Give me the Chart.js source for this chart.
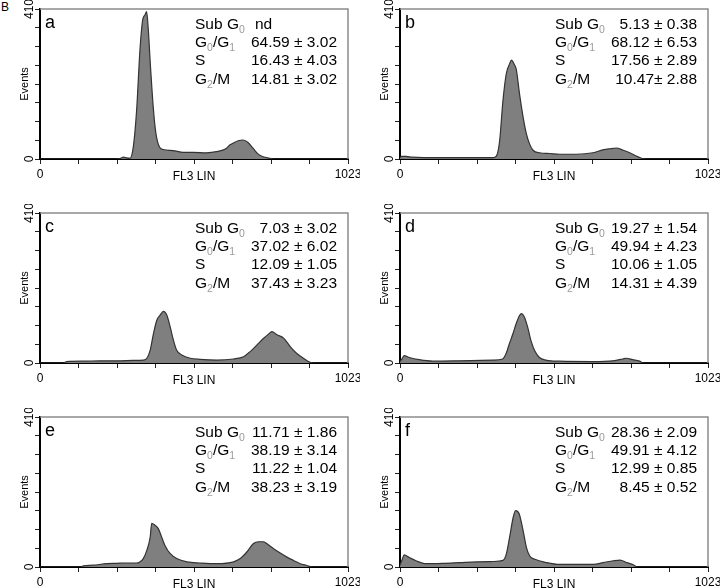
<!DOCTYPE html>
<html>
<head>
<meta charset="utf-8">
<script src="https://cdn.jsdelivr.net/npm/chart.js@4.4.1/dist/chart.umd.min.js"></script>
<style>
  body { margin: 0; background: #fff; width: 720px; height: 588px; overflow: hidden; position: relative; font-family: "Liberation Sans", Arial, sans-serif; }
  canvas { position: absolute; }
  #tag { position: absolute; left: 1px; top: 0px; font-size: 12px; }
</style>
</head>
<body>
<div id="tag">B</div>
<canvas id="pa" width="360" height="190" style="left:0;top:0"></canvas>
<canvas id="pb" width="360" height="190" style="left:360px;top:0"></canvas>
<canvas id="pc" width="360" height="190" style="left:0;top:204px"></canvas>
<canvas id="pd" width="360" height="190" style="left:360px;top:204px"></canvas>
<canvas id="pe" width="360" height="190" style="left:0;top:408px"></canvas>
<canvas id="pf" width="360" height="190" style="left:360px;top:408px"></canvas>
<script>
const FONT = '"Liberation Sans", Arial, sans-serif';

// Axis ticks
const xTicks = [0, 127.875, 255.75, 383.625, 511.5, 639.375, 767.25, 895.125, 1023];
const xTickText = ['0', '', '', '', '', '', '', '', '1023'];
const yTicks = [0, 51.25, 102.5, 153.75, 205, 256.25, 307.5, 358.75, 410];
const yEndLabels = ['0', '410'];

// Phase labels: [text, subscript, text, subscript ...]
const phaseLabels = [['Sub G', '0'], ['G', '0', '/G', '1'], ['S'], ['G', '2', '/M']];

// Histogram data (channel, events)
const chA = [0, 150, 255, 268, 277, 288, 299, 310, 321, 332, 341, 349, 354, 359, 367, 376, 385, 396, 409, 442, 476, 509, 553, 586, 619, 630, 641, 658, 675, 691, 708, 724, 741, 763, 775, 1023];
const evA = [0, 0, 0, 2, 5, 3, 2, 34, 134, 298, 380, 394, 403, 362, 252, 143, 70, 34, 26, 23, 18, 18, 17, 20, 29, 38, 43, 50, 52, 45, 29, 14, 6, 2, 0, 0];
const statsA = ['nd', '64.59 ± 3.02', '16.43 ± 4.03', '14.81 ± 3.02'];

const chB = [0, 5, 20, 40, 80, 150, 230, 309, 320, 331, 342, 353, 364, 370, 381, 386, 397, 409, 420, 431, 442, 464, 497, 530, 586, 641, 674, 696, 718, 741, 763, 785, 802, 818, 1023];
const evB = [4, 7, 7, 5, 4, 4, 4, 4, 8, 50, 160, 233, 260, 270, 256, 246, 178, 114, 68, 40, 24, 17, 15, 13, 13, 17, 25, 28, 30, 24, 17, 8, 2, 0, 0];
const statsB = ['5.13 ± 0.38', '68.12 ± 6.53', '17.56 ± 2.89', '10.47± 2.88'];

const chC = [0, 78, 89, 144, 199, 255, 310, 343, 355, 366, 377, 388, 399, 410, 421, 432, 443, 454, 471, 499, 532, 587, 643, 676, 698, 720, 742, 759, 770, 787, 809, 831, 853, 875, 897, 909, 1023];
const evC = [0, 0, 4, 5, 6, 6, 7, 8, 13, 35, 81, 117, 131, 141, 131, 100, 63, 35, 22, 13, 10, 8, 11, 17, 31, 49, 67, 79, 86, 77, 68, 45, 26, 13, 2, 0, 0];
const statsC = ['7.03 ± 3.02', '37.02 ± 6.02', '12.09 ± 1.05', '37.43 ± 3.23'];

const chD = [0, 7, 14, 31, 64, 109, 197, 308, 341, 352, 363, 375, 386, 397, 404, 413, 424, 435, 447, 463, 485, 530, 640, 707, 740, 751, 773, 796, 807, 1023];
const evD = [4, 12, 20, 15, 9, 5, 6, 8, 11, 25, 52, 80, 108, 130, 135, 126, 98, 61, 34, 15, 8, 5, 4, 6, 11, 13, 9, 5, 0, 0];
const statsD = ['19.27 ± 1.54', '49.94 ± 4.23', '10.06 ± 1.05', '14.31 ± 4.39'];

const chE = [0, 133, 144, 177, 222, 255, 288, 321, 332, 343, 355, 366, 371, 382, 393, 404, 415, 432, 454, 488, 532, 587, 643, 665, 687, 709, 726, 742, 753, 776, 798, 820, 842, 864, 886, 903, 1023];
const evE = [0, 0, 3, 5, 9, 10, 11, 11, 14, 23, 46, 82, 119, 114, 105, 82, 59, 37, 23, 14, 11, 9, 14, 23, 41, 64, 69, 69, 64, 50, 38, 27, 18, 9, 4, 0, 0];
const statsE = ['11.71 ± 1.86', '38.19 ± 3.14', '11.22 ± 1.04', '38.23 ± 3.19'];

const chF = [0, 7, 14, 31, 53, 87, 142, 198, 253, 309, 342, 353, 364, 376, 384, 396, 409, 420, 431, 448, 487, 531, 642, 675, 709, 731, 753, 775, 787, 1023];
const evF = [5, 20, 33, 26, 17, 9, 10, 12, 14, 15, 18, 35, 81, 136, 154, 145, 99, 53, 30, 21, 12, 7, 7, 12, 17, 19, 12, 6, 0, 0];
const statsF = ['28.36 ± 2.09', '49.91 ± 4.12', '12.99 ± 0.85', '8.45 ± 0.52'];

// frame, rotated y end labels, panel letter and stats block
const panelText = {
  id: 'panelText',
  afterDraw(chart, args, opts) {
    const { ctx, chartArea: a, scales } = chart;
    ctx.save();
    ctx.strokeStyle = '#8c8c8c';
    ctx.lineWidth = 1.5;
    ctx.beginPath();
    ctx.moveTo(a.left, a.top);
    ctx.lineTo(a.right, a.top);
    ctx.lineTo(a.right, a.bottom);
    ctx.stroke();

    ctx.fillStyle = '#000';
    ctx.font = '12px ' + FONT;
    ctx.textAlign = 'center';
    ctx.textBaseline = 'middle';
    const ends = [scales.y.min, scales.y.max];
    ends.forEach((v, i) => {
      ctx.save();
      ctx.translate(a.left - 10, scales.y.getPixelForValue(v));
      ctx.rotate(-Math.PI / 2);
      ctx.fillText(yEndLabels[i], 0, 0);
      ctx.restore();
    });

    ctx.textAlign = 'left';
    ctx.textBaseline = 'alphabetic';
    ctx.font = '18px ' + FONT;
    ctx.fillText(opts.letter, a.left + 5, a.top + 19);

    phaseLabels.forEach((parts, i) => {
      const y = a.top + 19.5 + i * 18.4;
      let x = a.left + 155;
      parts.forEach((p, j) => {
        if (j % 2 === 0) {
          ctx.font = '15.5px ' + FONT;
          ctx.fillStyle = '#000';
          ctx.fillText(p, x, y);
        } else {
          ctx.font = '10.5px ' + FONT;
          ctx.fillStyle = '#9a9a9a';
          ctx.fillText(p, x, y + 4);
        }
        x += ctx.measureText(p).width;
      });
      const val = opts.stats[i];
      ctx.font = '15.5px ' + FONT;
      ctx.fillStyle = '#000';
      if (val === 'nd') {
        ctx.textAlign = 'left';
        ctx.fillText(val, a.left + 215, y);
      } else {
        ctx.textAlign = 'right';
        ctx.fillText(val, a.right - 11, y);
      }
      ctx.textAlign = 'left';
    });
    ctx.restore();
  }
};

function drawPanel(id, letter, ch, ev, stats) {
  const ctx = document.getElementById(id).getContext('2d');
  new Chart(ctx, {
    type: 'line',
    data: {
      datasets: [{
        data: ch.map((c, i) => ({ x: c, y: ev[i] })),
        borderColor: '#333',
        borderWidth: 1.2,
        backgroundColor: '#7f7f7f',
        fill: 'origin',
        pointRadius: 0,
        cubicInterpolationMode: 'monotone'
      }]
    },
    options: {
      responsive: false,
      animation: false,
      devicePixelRatio: 1,
      layout: { padding: { top: 9, right: 12, left: 0, bottom: 0 } },
      plugins: {
        legend: { display: false },
        tooltip: { enabled: false },
        panelText: { letter: letter, stats: stats }
      },
      scales: {
        x: {
          type: 'linear',
          min: 0,
          max: 1023,
          afterBuildTicks: s => { s.ticks = xTicks.map(v => ({ value: v })); },
          afterFit: s => { s.height = 31; s.paddingLeft = 0; s.paddingRight = 0; },
          ticks: {
            autoSkip: false,
            maxRotation: 0,
            padding: 3,
            color: '#000',
            font: { size: 12, family: FONT },
            callback: (v, i) => xTickText[i]
          },
          grid: { drawOnChartArea: false, drawTicks: true, tickLength: 5, color: '#222' },
          border: { display: true, color: '#000', width: 2 },
          title: { display: true, text: 'FL3 LIN', color: '#000', font: { size: 12, family: FONT }, padding: { top: 0, bottom: 6 } }
        },
        y: {
          min: 0,
          max: 410,
          afterBuildTicks: s => { s.ticks = yTicks.map(v => ({ value: v })); },
          afterFit: s => { s.width = 40; s.paddingTop = 0; s.paddingBottom = 0; },
          ticks: { display: false },
          grid: { drawOnChartArea: false, drawTicks: true, tickLength: 5, color: '#222' },
          border: { display: true, color: '#000', width: 2 },
          title: { display: true, text: 'Events', color: '#000', font: { size: 11, family: FONT }, padding: { top: 18, bottom: 0 } }
        }
      }
    },
    plugins: [panelText]
  });
}

drawPanel('pa', 'a', chA, evA, statsA);
drawPanel('pb', 'b', chB, evB, statsB);
drawPanel('pc', 'c', chC, evC, statsC);
drawPanel('pd', 'd', chD, evD, statsD);
drawPanel('pe', 'e', chE, evE, statsE);
drawPanel('pf', 'f', chF, evF, statsF);
</script>
</body>
</html>
